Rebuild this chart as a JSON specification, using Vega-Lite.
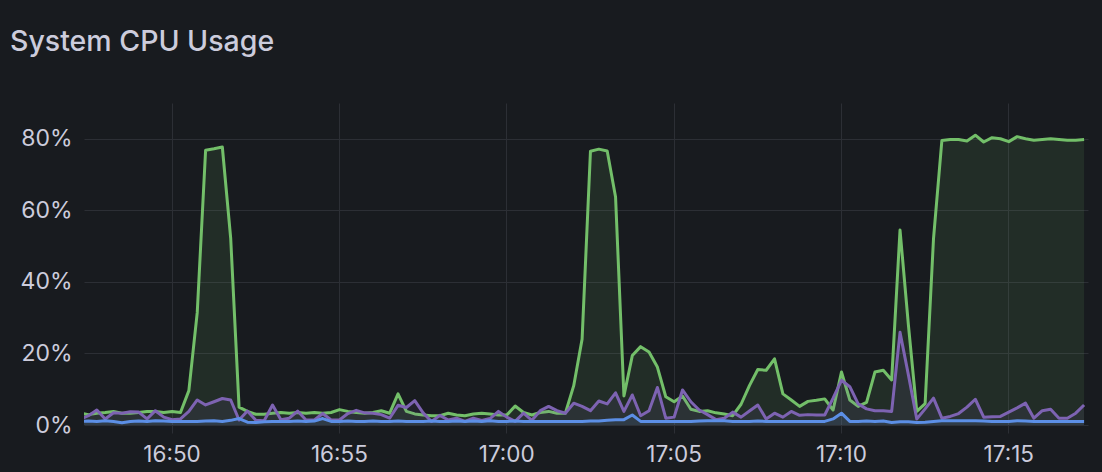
{
  "$schema": "https://vega.github.io/schema/vega-lite/v6.json",
  "width": 1004,
  "height": 322,
  "autosize": {"type": "none"},
  "padding": {"left": 84, "top": 103, "right": 14, "bottom": 47},
  "background": "#181b1f",
  "title": {"text": "System CPU Usage", "anchor": "start", "frame": "group", "dx": -74, "offset": 47, "font": "Inter", "fontSize": 28.5, "fontWeight": 500, "color": "#ccccdc"},
  "config": {
    "view": {"stroke": null},
    "font": "Inter"
  },
  "data": {"values": [
    {"t":"2024-01-01T16:47:16","user":3.3,"system":1.6,"iowait":1.0},
    {"t":"2024-01-01T16:47:31","user":2.9,"system":2.6,"iowait":1.1},
    {"t":"2024-01-01T16:47:46","user":3.3,"system":4.2,"iowait":1.0},
    {"t":"2024-01-01T16:48:01","user":3.5,"system":1.7,"iowait":1.2},
    {"t":"2024-01-01T16:48:16","user":3.8,"system":3.4,"iowait":1.0},
    {"t":"2024-01-01T16:48:31","user":3.3,"system":3.3,"iowait":0.6},
    {"t":"2024-01-01T16:48:46","user":3.3,"system":3.7,"iowait":1.0},
    {"t":"2024-01-01T16:49:01","user":3.5,"system":3.6,"iowait":1.1},
    {"t":"2024-01-01T16:49:16","user":3.8,"system":1.7,"iowait":1.0},
    {"t":"2024-01-01T16:49:31","user":3.8,"system":4.0,"iowait":1.2},
    {"t":"2024-01-01T16:49:46","user":3.5,"system":2.2,"iowait":1.1},
    {"t":"2024-01-01T16:50:01","user":3.8,"system":1.5,"iowait":1.0},
    {"t":"2024-01-01T16:50:16","user":3.5,"system":1.7,"iowait":1.0},
    {"t":"2024-01-01T16:50:31","user":9.6,"system":3.8,"iowait":1.0},
    {"t":"2024-01-01T16:50:46","user":31.4,"system":7.0,"iowait":1.0},
    {"t":"2024-01-01T16:51:01","user":76.8,"system":5.6,"iowait":1.1},
    {"t":"2024-01-01T16:51:16","user":77.2,"system":6.5,"iowait":1.2},
    {"t":"2024-01-01T16:51:31","user":77.7,"system":7.4,"iowait":1.0},
    {"t":"2024-01-01T16:51:46","user":52.2,"system":7.0,"iowait":1.3},
    {"t":"2024-01-01T16:52:01","user":5.0,"system":1.4,"iowait":1.8},
    {"t":"2024-01-01T16:52:16","user":3.8,"system":3.9,"iowait":0.8},
    {"t":"2024-01-01T16:52:31","user":3.0,"system":1.3,"iowait":0.7},
    {"t":"2024-01-01T16:52:46","user":3.0,"system":1.2,"iowait":0.9},
    {"t":"2024-01-01T16:53:01","user":3.3,"system":5.6,"iowait":1.0},
    {"t":"2024-01-01T16:53:16","user":3.5,"system":1.5,"iowait":1.0},
    {"t":"2024-01-01T16:53:31","user":3.3,"system":1.9,"iowait":1.0},
    {"t":"2024-01-01T16:53:46","user":3.5,"system":3.9,"iowait":1.1},
    {"t":"2024-01-01T16:54:01","user":3.3,"system":1.4,"iowait":1.0},
    {"t":"2024-01-01T16:54:16","user":3.5,"system":1.4,"iowait":1.1},
    {"t":"2024-01-01T16:54:31","user":3.3,"system":3.2,"iowait":1.8},
    {"t":"2024-01-01T16:54:46","user":3.5,"system":1.4,"iowait":1.0},
    {"t":"2024-01-01T16:55:01","user":4.3,"system":1.4,"iowait":1.0},
    {"t":"2024-01-01T16:55:16","user":3.8,"system":3.2,"iowait":1.1},
    {"t":"2024-01-01T16:55:31","user":3.5,"system":4.1,"iowait":1.0},
    {"t":"2024-01-01T16:55:46","user":3.3,"system":3.4,"iowait":1.0},
    {"t":"2024-01-01T16:56:01","user":3.5,"system":3.3,"iowait":1.1},
    {"t":"2024-01-01T16:56:16","user":4.0,"system":2.9,"iowait":1.0},
    {"t":"2024-01-01T16:56:31","user":3.3,"system":1.9,"iowait":1.0},
    {"t":"2024-01-01T16:56:46","user":8.7,"system":5.5,"iowait":1.1},
    {"t":"2024-01-01T16:57:01","user":3.8,"system":4.9,"iowait":1.0},
    {"t":"2024-01-01T16:57:16","user":3.1,"system":6.8,"iowait":1.0},
    {"t":"2024-01-01T16:57:31","user":2.8,"system":3.4,"iowait":1.0},
    {"t":"2024-01-01T16:57:46","user":2.6,"system":1.0,"iowait":1.1},
    {"t":"2024-01-01T16:58:01","user":2.6,"system":2.7,"iowait":1.0},
    {"t":"2024-01-01T16:58:16","user":3.3,"system":1.4,"iowait":1.0},
    {"t":"2024-01-01T16:58:31","user":2.8,"system":1.9,"iowait":1.1},
    {"t":"2024-01-01T16:58:46","user":2.6,"system":1.0,"iowait":1.0},
    {"t":"2024-01-01T16:59:01","user":3.1,"system":1.9,"iowait":1.1},
    {"t":"2024-01-01T16:59:16","user":3.3,"system":1.3,"iowait":1.0},
    {"t":"2024-01-01T16:59:31","user":3.1,"system":1.8,"iowait":1.2},
    {"t":"2024-01-01T16:59:46","user":2.8,"system":3.8,"iowait":1.0},
    {"t":"2024-01-01T17:00:01","user":2.8,"system":2.2,"iowait":1.0},
    {"t":"2024-01-01T17:00:16","user":5.3,"system":1.0,"iowait":1.1},
    {"t":"2024-01-01T17:00:31","user":3.5,"system":3.3,"iowait":1.0},
    {"t":"2024-01-01T17:00:46","user":2.8,"system":1.3,"iowait":1.0},
    {"t":"2024-01-01T17:01:01","user":3.5,"system":4.0,"iowait":1.0},
    {"t":"2024-01-01T17:01:16","user":3.8,"system":5.2,"iowait":1.0},
    {"t":"2024-01-01T17:01:31","user":3.3,"system":4.0,"iowait":1.0},
    {"t":"2024-01-01T17:01:46","user":3.3,"system":3.3,"iowait":1.0},
    {"t":"2024-01-01T17:02:01","user":11.0,"system":6.1,"iowait":1.0},
    {"t":"2024-01-01T17:02:16","user":24.0,"system":5.2,"iowait":1.0},
    {"t":"2024-01-01T17:02:31","user":76.5,"system":4.0,"iowait":1.1},
    {"t":"2024-01-01T17:02:46","user":77.1,"system":6.7,"iowait":1.1},
    {"t":"2024-01-01T17:03:01","user":76.6,"system":5.9,"iowait":1.3},
    {"t":"2024-01-01T17:03:16","user":63.7,"system":9.0,"iowait":1.5},
    {"t":"2024-01-01T17:03:31","user":8.1,"system":3.8,"iowait":1.5},
    {"t":"2024-01-01T17:03:46","user":19.4,"system":8.4,"iowait":2.8},
    {"t":"2024-01-01T17:04:01","user":21.9,"system":2.6,"iowait":1.0},
    {"t":"2024-01-01T17:04:16","user":20.4,"system":4.0,"iowait":1.0},
    {"t":"2024-01-01T17:04:31","user":16.2,"system":10.5,"iowait":1.0},
    {"t":"2024-01-01T17:04:46","user":7.9,"system":1.9,"iowait":1.0},
    {"t":"2024-01-01T17:05:01","user":6.5,"system":2.2,"iowait":1.0},
    {"t":"2024-01-01T17:05:16","user":8.1,"system":9.8,"iowait":1.0},
    {"t":"2024-01-01T17:05:31","user":4.4,"system":6.5,"iowait":1.0},
    {"t":"2024-01-01T17:05:46","user":3.8,"system":4.2,"iowait":1.1},
    {"t":"2024-01-01T17:06:01","user":4.0,"system":2.9,"iowait":1.2},
    {"t":"2024-01-01T17:06:16","user":3.4,"system":1.5,"iowait":1.2},
    {"t":"2024-01-01T17:06:31","user":3.1,"system":1.9,"iowait":1.2},
    {"t":"2024-01-01T17:06:46","user":2.6,"system":3.6,"iowait":1.0},
    {"t":"2024-01-01T17:07:01","user":5.8,"system":2.2,"iowait":1.0},
    {"t":"2024-01-01T17:07:16","user":11.0,"system":3.9,"iowait":1.0},
    {"t":"2024-01-01T17:07:31","user":15.5,"system":5.6,"iowait":1.1},
    {"t":"2024-01-01T17:07:46","user":15.3,"system":1.7,"iowait":1.0},
    {"t":"2024-01-01T17:08:01","user":18.5,"system":3.3,"iowait":1.0},
    {"t":"2024-01-01T17:08:16","user":8.7,"system":2.2,"iowait":1.0},
    {"t":"2024-01-01T17:08:31","user":7.0,"system":3.8,"iowait":1.0},
    {"t":"2024-01-01T17:08:46","user":5.2,"system":2.7,"iowait":1.0},
    {"t":"2024-01-01T17:09:01","user":6.6,"system":2.9,"iowait":1.0},
    {"t":"2024-01-01T17:09:16","user":6.9,"system":2.8,"iowait":1.0},
    {"t":"2024-01-01T17:09:31","user":7.3,"system":2.8,"iowait":1.0},
    {"t":"2024-01-01T17:09:46","user":4.2,"system":7.5,"iowait":1.7},
    {"t":"2024-01-01T17:10:01","user":14.8,"system":12.5,"iowait":3.3},
    {"t":"2024-01-01T17:10:16","user":7.0,"system":10.7,"iowait":1.0},
    {"t":"2024-01-01T17:10:31","user":5.2,"system":5.9,"iowait":1.0},
    {"t":"2024-01-01T17:10:46","user":6.3,"system":4.5,"iowait":1.1},
    {"t":"2024-01-01T17:11:01","user":14.8,"system":4.0,"iowait":1.0},
    {"t":"2024-01-01T17:11:16","user":15.3,"system":4.0,"iowait":1.1},
    {"t":"2024-01-01T17:11:31","user":12.6,"system":3.8,"iowait":0.7},
    {"t":"2024-01-01T17:11:46","user":54.5,"system":25.9,"iowait":0.9},
    {"t":"2024-01-01T17:12:01","user":28.0,"system":14.0,"iowait":0.9},
    {"t":"2024-01-01T17:12:16","user":3.8,"system":1.7,"iowait":0.7},
    {"t":"2024-01-01T17:12:31","user":6.0,"system":4.5,"iowait":0.8},
    {"t":"2024-01-01T17:12:46","user":52.0,"system":7.5,"iowait":1.0},
    {"t":"2024-01-01T17:13:01","user":79.5,"system":1.9,"iowait":1.2},
    {"t":"2024-01-01T17:13:16","user":79.8,"system":2.4,"iowait":1.2},
    {"t":"2024-01-01T17:13:31","user":79.8,"system":3.2,"iowait":1.2},
    {"t":"2024-01-01T17:13:46","user":79.4,"system":5.0,"iowait":1.2},
    {"t":"2024-01-01T17:14:01","user":81.0,"system":7.2,"iowait":1.2},
    {"t":"2024-01-01T17:14:16","user":79.1,"system":2.2,"iowait":1.1},
    {"t":"2024-01-01T17:14:31","user":80.3,"system":2.3,"iowait":1.0},
    {"t":"2024-01-01T17:14:46","user":80.0,"system":2.4,"iowait":1.0},
    {"t":"2024-01-01T17:15:01","user":79.2,"system":3.6,"iowait":1.0},
    {"t":"2024-01-01T17:15:16","user":80.6,"system":4.8,"iowait":1.2},
    {"t":"2024-01-01T17:15:31","user":80.0,"system":6.1,"iowait":1.1},
    {"t":"2024-01-01T17:15:46","user":79.6,"system":1.9,"iowait":1.0},
    {"t":"2024-01-01T17:16:01","user":79.8,"system":4.0,"iowait":1.0},
    {"t":"2024-01-01T17:16:16","user":80.0,"system":4.4,"iowait":1.0},
    {"t":"2024-01-01T17:16:31","user":79.8,"system":1.9,"iowait":1.0},
    {"t":"2024-01-01T17:16:46","user":79.6,"system":1.9,"iowait":1.0},
    {"t":"2024-01-01T17:17:01","user":79.6,"system":3.3,"iowait":1.0},
    {"t":"2024-01-01T17:17:16","user":79.8,"system":5.6,"iowait":1.0}
  ]},
  "encoding": {
    "x": {"field": "t", "type": "temporal", "title": null,
          "scale": {"domain": [{"year": 2024, "month": 1, "date": 1, "hours": 16, "minutes": 47, "seconds": 23}, {"year": 2024, "month": 1, "date": 1, "hours": 17, "minutes": 17, "seconds": 23}]},
          "axis": {"format": "%H:%M",
                   "values": [{"year": 2024, "month": 1, "date": 1, "hours": 16, "minutes": 50}, {"year": 2024, "month": 1, "date": 1, "hours": 16, "minutes": 55}, {"year": 2024, "month": 1, "date": 1, "hours": 17, "minutes": 0}, {"year": 2024, "month": 1, "date": 1, "hours": 17, "minutes": 5}, {"year": 2024, "month": 1, "date": 1, "hours": 17, "minutes": 10}, {"year": 2024, "month": 1, "date": 1, "hours": 17, "minutes": 15}],
                   "grid": true, "gridColor": "#2c2f35", "tickColor": "#2c2f35", "tickSize": 8, "domain": false,
                   "labelFontSize": 22.5, "labelColor": "#ccccdc", "labelPadding": 10, "labelFont": "Inter", "labelFlush": false}}
  },
  "layer": [
    {"mark": {"type": "area", "color": "#73BF69", "opacity": 0.11, "clip": true},
     "encoding": {"y": {"field": "user", "type": "quantitative", "title": null, "scale": {"domain": [0, 89]},
       "axis": {"values": [0, 20, 40, 60, 80], "labelExpr": "datum.value + '%'", "grid": true, "gridColor": "#2c2f35", "ticks": false, "tickSize": 0, "domain": false, "labelFontSize": 23, "labelColor": "#ccccdc", "labelPadding": 12, "labelFont": "Inter"}}}},
    {"mark": {"type": "line", "color": "#73BF69", "strokeWidth": 3, "strokeJoin": "round", "clip": true},
     "encoding": {"y": {"field": "user", "type": "quantitative", "title": null}}},
    {"mark": {"type": "area", "color": "#7D63B2", "opacity": 0.1, "clip": true},
     "encoding": {"y": {"field": "system", "type": "quantitative", "title": null}}},
    {"mark": {"type": "line", "color": "#7D63B2", "strokeWidth": 3, "strokeJoin": "round", "clip": true},
     "encoding": {"y": {"field": "system", "type": "quantitative", "title": null}}},
    {"mark": {"type": "area", "color": "#5C8FE6", "opacity": 0.1, "clip": true},
     "encoding": {"y": {"field": "iowait", "type": "quantitative", "title": null}}},
    {"mark": {"type": "line", "color": "#5C8FE6", "strokeWidth": 3, "strokeJoin": "round", "clip": true},
     "encoding": {"y": {"field": "iowait", "type": "quantitative", "title": null}}}
  ]
}
